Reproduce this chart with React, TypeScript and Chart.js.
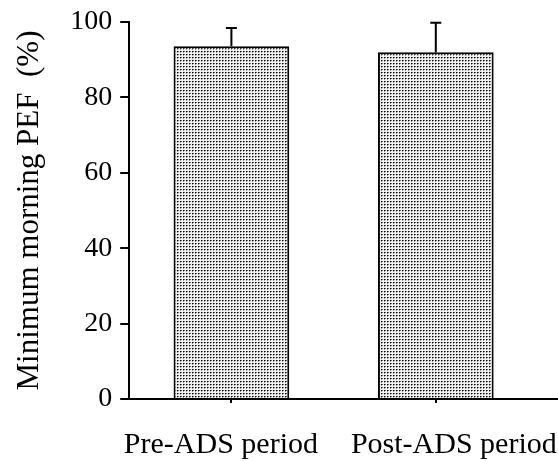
import React, { useEffect, useRef } from "react";
import { Chart, registerables } from "chart.js";

Chart.register(...registerables);

const categories = ["Pre-ADS period", "Post-ADS period"];
const meanValues = [93.6, 92.0];
const sdValues = [4.8, 7.8];
const yTicks = [0, 20, 40, 60, 80, 100];
const yTitle = "Minimum morning PEF  (%)";

const FONT = "'Liberation Serif', 'Times New Roman', serif";

function makePattern(): CanvasPattern | string {
  const c = document.createElement("canvas");
  c.width = 3;
  c.height = 3;
  const ctx = c.getContext("2d");
  if (!ctx) return "#ccc";
  ctx.fillStyle = "#f0f0f0";
  ctx.fillRect(0, 0, 3, 3);
  ctx.fillStyle = "#000";
  ctx.fillRect(0, 0, 1, 1);
  ctx.fillStyle = "#666";
  ctx.fillRect(1, 0, 1, 1);
  ctx.fillStyle = "#999";
  ctx.fillRect(0, 1, 1, 1);
  const p = ctx.createPattern(c, "repeat");
  return p || "#ccc";
}

const errorBarPlugin = {
  id: "errorBars",
  afterDatasetsDraw(chart: any) {
    const ctx = chart.ctx;
    const meta = chart.getDatasetMeta(0);
    const yScale = chart.scales.y;
    ctx.save();
    ctx.strokeStyle = "#000";
    ctx.lineWidth = 2;
    meta.data.forEach((bar: any, i: number) => {
      const top = yScale.getPixelForValue(meanValues[i] + sdValues[i]);
      const base = yScale.getPixelForValue(meanValues[i]);
      const x = bar.x;
      ctx.beginPath();
      ctx.moveTo(x, base);
      ctx.lineTo(x, top);
      ctx.moveTo(x - 5.5, top);
      ctx.lineTo(x + 5.5, top);
      ctx.stroke();
    });
    ctx.restore();
  },
};

const axisAndLabelsPlugin = {
  id: "axisExtras",
  afterDraw(chart: any) {
    const ctx = chart.ctx;
    const xScale = chart.scales.x;
    const area = chart.chartArea;
    ctx.save();
    ctx.strokeStyle = "#000";
    ctx.lineWidth = 2;
    ctx.beginPath();
    ctx.moveTo(area.right - 1, area.bottom);
    ctx.lineTo(chart.width, area.bottom);
    ctx.stroke();
    const shifts = [-10.5, 18];
    ctx.fillStyle = "#000";
    ctx.font = `30px ${FONT}`;
    ctx.textAlign = "center";
    ctx.textBaseline = "alphabetic";
    categories.forEach((label, i) => {
      const x = xScale.getPixelForTick(i) + shifts[i];
      ctx.fillText(label, x, 453);
    });
    ctx.restore();
  },
};

export default function App() {
  const canvasRef = useRef<HTMLCanvasElement | null>(null);

  useEffect(() => {
    document.body.style.margin = "0";
    const canvas = canvasRef.current;
    if (!canvas) return;
    const chart = new Chart(canvas, {
      type: "bar",
      data: {
        labels: categories,
        datasets: [
          {
            data: meanValues,
            backgroundColor: makePattern() as any,
            borderColor: "#000",
            borderWidth: 2,
            barPercentage: 0.566,
            categoryPercentage: 1,
          },
        ],
      },
      options: {
        responsive: false,
        animation: false,
        events: [],
        layout: { padding: { top: 22, right: 20, bottom: 58, left: 0 } },
        plugins: {
          legend: { display: false },
          tooltip: { enabled: false },
        },
        scales: {
          x: {
            type: "category",
            offset: true,
            grid: {
              display: true,
              offset: false,
              drawOnChartArea: false,
              drawTicks: true,
              tickLength: 4,
              color: "#000",
              lineWidth: 2,
            },
            border: { display: true, color: "#000", width: 2 },
            ticks: { display: false },
          },
          y: {
            min: 0,
            max: 100,
            afterBuildTicks: (scale: any) => {
              scale.ticks = yTicks.map((v) => ({ value: v }));
            },
            grid: {
              display: true,
              drawOnChartArea: false,
              drawTicks: true,
              tickLength: 9,
              color: "#000",
              lineWidth: 2,
            },
            border: { display: true, color: "#000", width: 2 },
            ticks: {
              color: "#000",
              font: { family: FONT, size: 28, lineHeight: 1.0 },
              padding: 8,
            },
            title: {
              display: true,
              text: yTitle,
              color: "#000",
              font: { family: FONT, size: 31 },
              padding: { top: 11, bottom: 14 },
            },
          },
        },
      },
      plugins: [errorBarPlugin, axisAndLabelsPlugin],
    });
    return () => chart.destroy();
  }, []);

  return (
    <div style={{ width: 558, height: 461 }}>
      <canvas ref={canvasRef} width={558} height={461} />
    </div>
  );
}
